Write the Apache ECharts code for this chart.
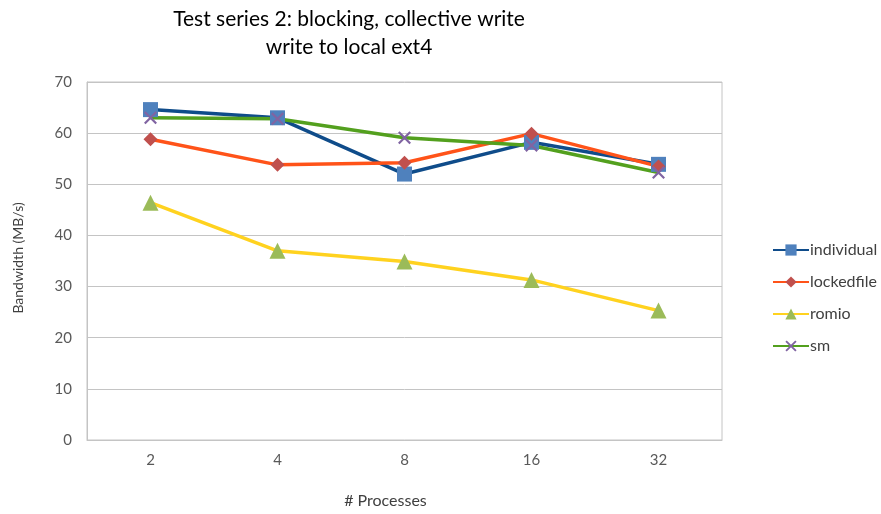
<!DOCTYPE html>
<html>
<head>
<meta charset="utf-8">
<script src="https://cdn.jsdelivr.net/npm/echarts@6/dist/echarts.min.js"></script>
<style>
  html, body { margin: 0; padding: 0; background: #fff; }
  #chart { width: 881px; height: 514px; }
</style>
</head>
<body>
<div id="chart"></div>
<script>
// Process counts on the x axis
const processes = ['2', '4', '8', '16', '32'];
// Bandwidth (MB/s) per method
const individual = [64.6, 63.0, 52.0, 58.2, 53.9];
const lockedfile = [58.8, 53.8, 54.2, 59.9, 53.5];
const romio = [46.4, 37.0, 34.9, 31.3, 25.3];
const sm = [63.0, 62.8, 59.1, 57.6, 52.3];
const yTicks = { min: 0, max: 70, interval: 10 };

const FONT = 'Lato, "Open Sans", sans-serif';
const crossPath = 'path://M0,1.2 L1.2,0 L10,8.8 L8.8,10 Z M8.8,0 L10,1.2 L1.2,10 L0,8.8 Z';

function lineSeries(name, data, lineColor, markColor, symbol, size) {
  return {
    name: name,
    type: 'line',
    data: data,
    symbol: symbol,
    symbolSize: size,
    showAllSymbol: true,
    lineStyle: { color: lineColor, width: 3.5 },
    itemStyle: { color: markColor, borderWidth: 0 },
    emphasis: { disabled: true },
    animation: false
  };
}

const chart = echarts.init(document.getElementById('chart'), null, { renderer: 'canvas' });
chart.setOption({
  backgroundColor: '#ffffff',
  animation: false,
  textStyle: { fontFamily: FONT },
  title: {
    text: 'Test series 2: blocking, collective write\nwrite to local ext4',
    left: 344,
    textAlign: 'center',
    top: 0,
    textStyle: { fontFamily: FONT, fontSize: 21, fontWeight: 'normal', color: '#000', lineHeight: 28 }
  },
  grid: { left: 87, right: 159, top: 82, bottom: 71, show: true, borderColor: '#c4c4c4', borderWidth: 1 },
  legend: {
    orient: 'vertical',
    left: 767,
    top: 237,
    itemWidth: 36,
    itemHeight: 14,
    itemGap: 16,
    textStyle: { fontFamily: FONT, fontSize: 16, color: '#404040', padding: [0, 0, 0, -4] },
    data: ['individual', 'lockedfile', 'romio', 'sm']
  },
  xAxis: {
    type: 'category',
    data: processes,
    boundaryGap: true,
    name: '# Processes',
    nameLocation: 'middle',
    nameGap: 53,
    nameTextStyle: { fontFamily: FONT, fontSize: 16, color: '#404040', padding: [0, 38, 0, 0] },
    axisLine: { lineStyle: { color: '#c4c4c4', width: 1 } },
    axisTick: { show: false },
    axisLabel: { fontFamily: FONT, fontSize: 15, color: '#595959', margin: 13 },
    splitLine: { show: false }
  },
  yAxis: {
    type: 'value',
    min: yTicks.min,
    max: yTicks.max,
    interval: yTicks.interval,
    name: 'Bandwidth (MB/s)',
    nameLocation: 'middle',
    nameRotate: 90,
    nameGap: 62,
    nameTextStyle: { fontFamily: FONT, fontSize: 14, color: '#404040', padding: [0, 0, 0, 6] },
    axisLine: { show: true, lineStyle: { color: '#c4c4c4', width: 1 } },
    axisTick: { show: false },
    axisLabel: { fontFamily: FONT, fontSize: 15, color: '#595959', margin: 15 },
    splitLine: { lineStyle: { color: '#c4c4c4', width: 1 } }
  },
  series: [
    lineSeries('individual', individual, '#0f4c8a', '#4f81bd', 'rect', 15),
    lineSeries('lockedfile', lockedfile, '#ff5319', '#c0504d', 'diamond', 14),
    lineSeries('romio', romio, '#ffd21f', '#9bbb59', 'triangle', 16),
    lineSeries('sm', sm, '#53a01e', '#8064a2', crossPath, 13)
  ]
});
</script>
</body>
</html>
